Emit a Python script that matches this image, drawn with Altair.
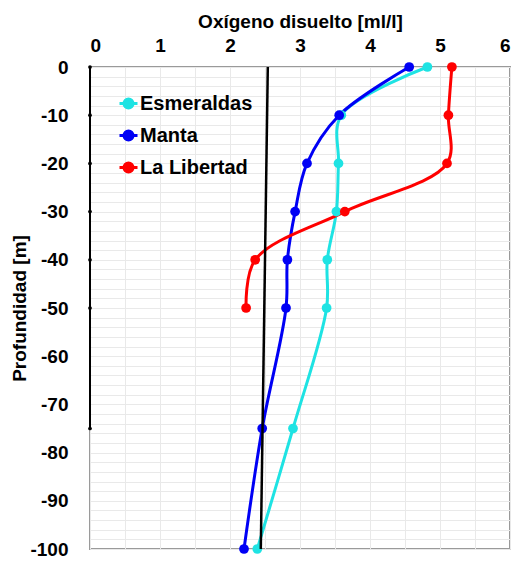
import altair as alt
import pandas as pd

# ---- data ----
depths = [0, -10, -20, -30, -40, -50, -75, -100]
esmeraldas = [4.82, 3.59, 3.55, 3.52, 3.39, 3.38, 2.90, 2.39]
manta = [4.56, 3.56, 3.10, 2.93, 2.82, 2.80, 2.46, 2.20]
ll_depths = [0, -10, -20, -30, -40, -50]
la_libertad = [5.17, 5.12, 5.10, 3.64, 2.36, 2.23]

ref_depths = [0, -100]
ref_oxygen = [2.54, 2.44]

left_depths = [0, -10, -20, -30, -40, -50, -75]
left_oxygen = [0, 0, 0, 0, 0, 0, 0]

series_names = ["Esmeraldas", "Manta", "La Libertad"]
series_colors = ["#1ee3e3", "#0000f5", "#ff0000"]

x_grid_values = [i * 0.5 for i in range(13)]
y_grid_values = list(range(-100, 1, 2))

# ---- tables ----
rows = []
for d, v in zip(depths, esmeraldas):
    rows.append({"serie": "Esmeraldas", "depth": d, "oxygen": v})
for d, v in zip(depths, manta):
    rows.append({"serie": "Manta", "depth": d, "oxygen": v})
for d, v in zip(ll_depths, la_libertad):
    rows.append({"serie": "La Libertad", "depth": d, "oxygen": v})
df = pd.DataFrame(rows)
ref_df = pd.DataFrame({"depth": ref_depths, "oxygen": ref_oxygen})
left_df = pd.DataFrame({"depth": left_depths, "oxygen": left_oxygen})

FONT = "Liberation Sans"

x_enc = alt.X(
    "oxygen:Q",
    scale=alt.Scale(domain=[0, 6], nice=False, zero=False),
    axis=alt.Axis(
        orient="top",
        values=x_grid_values,
        labelExpr="datum.value % 1 == 0 ? toString(datum.value) : ''",
        title="Oxígeno disuelto [ml/l]",
        labelPadding=12,
        titlePadding=5,
    ),
)
y_enc = alt.Y(
    "depth:Q",
    scale=alt.Scale(domain=[-100, 0], nice=False, zero=False),
    axis=alt.Axis(
        values=y_grid_values,
        labelExpr="datum.value % 10 == 0 ? toString(datum.value) : ''",
        title="Profundidad [m]",
        labelPadding=22,
        titlePadding=0,
    ),
)

symbol_path = ("M-1,0H1M-0.5,0A0.5,0.5,0,1,0,0.5,0"
               "A0.5,0.5,0,1,0,-0.5,0Z")
legend = alt.Legend(
    title=None,
    orient="none",
    legendX=28,
    legendY=26,
    symbolType=symbol_path,
    symbolSize=324,
    symbolStrokeWidth=3,
    labelFont=FONT,
    labelFontSize=20,
    labelFontWeight="bold",
    labelColor="black",
    labelOffset=1,
    rowPadding=11,
    padding=0,
    symbolOpacity=1,
)
color_enc = alt.Color(
    "serie:N",
    scale=alt.Scale(domain=series_names, range=series_colors),
    sort=series_names,
    legend=legend,
)

lines = alt.Chart(df).mark_line(
    interpolate="catmull-rom", strokeWidth=3
).encode(
    x=x_enc, y=y_enc, color=color_enc,
    order=alt.Order("depth:Q", sort="descending"),
)
points = alt.Chart(df).mark_point(
    filled=True, size=95, opacity=1
).encode(x=x_enc, y=y_enc, color=color_enc)

ref_line = alt.Chart(ref_df).mark_line(color="black", strokeWidth=2.5).encode(
    x=x_enc, y=y_enc, order=alt.Order("depth:Q", sort="descending")
)
left_line = alt.Chart(left_df).mark_line(color="black", strokeWidth=2).encode(
    x=x_enc, y=y_enc, order=alt.Order("depth:Q", sort="descending")
)
left_pts = alt.Chart(left_df).mark_point(
    filled=True, size=14, color="black", opacity=1
).encode(x=x_enc, y=y_enc)

chart = alt.layer(lines, points, ref_line, left_line, left_pts).properties(
    width=420,
    height=482,
    autosize=alt.AutoSizeParams(type="none"),
    padding={"left": 82, "top": 59, "right": 3, "bottom": 10},
).configure_view(
    stroke="#9a9a9a", strokeWidth=2
).configure_axis(
    labelFont=FONT,
    labelFontSize=19,
    labelFontWeight="bold",
    labelColor="black",
    titleFont=FONT,
    titleFontSize=19,
    titleFontWeight="bold",
    titleColor="black",
    ticks=False,
    domain=False,
    gridColor="#e9e9e9",
    gridWidth=1,
    labelOverlap=False,
).configure_legend(
    symbolStrokeWidth=3,
)

chart.save("out.html", embed_options={"renderer": "svg", "actions": False})
